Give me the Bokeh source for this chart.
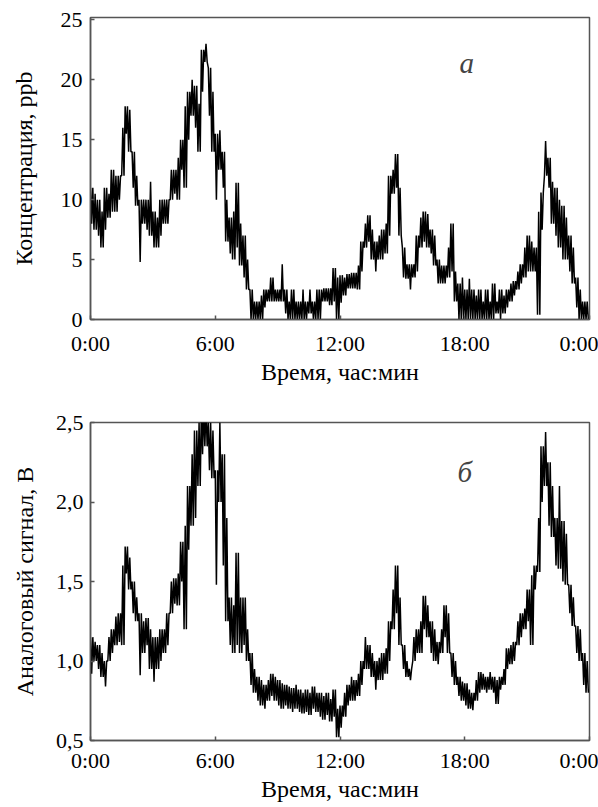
from bokeh.plotting import figure
from bokeh.layouts import column
from bokeh.models import FixedTicker, Label
from bokeh.embed import file_html
from bokeh.resources import INLINE

# ---- tick definitions ----
hour_ticks = [0, 6, 12, 18, 24]
hour_labels = ["0:00", "6:00", "12:00", "18:00", "0:00"]
conc_ticks = [0, 5, 10, 15, 20, 25]
sig_ticks = [0.5, 1.0, 1.5, 2.0, 2.5]
sig_tick_labels = ["0,5", "1,0", "1,5", "2,0", "2,5"]

# ---- concentration, ppb: min / max within each 10-minute interval ----
conc_lo = [
    8, 7.5, 7, 6, 7.5, 8.5,
    9, 9, 10, 12, 15.5, 14,
    11, 9.5, 4.8, 8, 7.5, 7,
    6, 6, 7, 8, 8, 10,
    10.5, 10, 12.5, 11, 15, 17,
    16, 14, 19, 21.5, 17, 14,
    10, 12.5, 11, 6.5, 5.5, 5,
    6, 4.5, 3.5, 2.5, 0, 0,
    0, 0, 1, 1.5, 1.5, 1.5,
    1.5, 1.5, 0.5, 0, 0, 0,
    0, 0, 0, 0.5, 0, 0,
    0, 1.5, 1.5, 1.2, 1.5, 0,
    1.4, 2, 2.6, 2.6, 2.6, 2.5,
    4, 6, 6.5, 5, 4, 5,
    5, 5.5, 7, 10.5, 11, 7,
    3.5, 3.4, 2.5, 3.5, 4, 6,
    6.5, 6, 5.5, 4.5, 3, 3,
    3, 3.5, 4, 1.5, 0, 0,
    0, 0, 0, 0, 0, 0,
    0, 0, 0, 0.5, 0, 0.5,
    1, 1.5, 2, 2.5, 3, 3.5,
    4, 4, 4, 0.4, 7.5, 12,
    11, 8, 7, 6, 5, 5,
    4, 3, 1, 0, 0, 0,
]
conc_hi = [
    11, 10.5, 10, 9, 11, 10.5,
    12.5, 12, 12, 16, 17.8, 17.5,
    14, 12, 10, 10, 10, 11.5,
    9, 8.5, 10, 10, 10, 12.5,
    12.5, 13.5, 15, 17.8, 19, 20,
    19.5, 18, 22.5, 23, 21, 19,
    15.5, 15.8, 14, 10, 8.5, 9,
    11.4, 8, 7, 5, 2.5, 1.5,
    1.5, 2, 2.5, 2.5, 3.5, 2.5,
    2.5, 4.6, 2.5, 1.5, 2.5, 1.5,
    1.5, 2.5, 1.5, 2.5, 1.5, 2.5,
    2.5, 2.6, 2.6, 2.6, 4.3, 3.5,
    3.7, 3.5, 3.8, 3.9, 3.9, 4.5,
    6.5, 8, 8.7, 7.5, 6.5, 7,
    7.5, 8, 12, 12.5, 13.8, 11,
    6, 4.6, 4.6, 4.6, 7, 8.5,
    9, 8.8, 7.5, 7, 5, 4.5,
    4.5, 6, 8, 4, 3, 3.5,
    2.5, 3.4, 2.5, 2, 2.5, 1.5,
    2.5, 1.5, 3, 1.5, 2.5, 2,
    2.5, 3, 3.2, 4, 4.6, 6,
    7, 6.5, 6, 9, 10.6, 14.9,
    13.5, 11.5, 11, 10, 9.5, 8.5,
    7, 6, 3.5, 2.5, 1.5, 1.5,
]

# ---- analog signal, V: min / max within each 10-minute interval ----
sig_lo = [
    0.92, 1.0, 0.95, 0.9, 0.84, 1.0,
    1.05, 1.1, 1.12, 1.1, 1.55, 1.45,
    1.3, 1.25, 0.91, 1.05, 1.1, 0.95,
    0.87, 0.95, 1.0, 1.05, 1.1, 1.3,
    1.36, 1.35, 1.5, 1.2, 1.7, 1.85,
    1.9, 2.1, 2.3, 2.35, 2.2, 2.15,
    1.48, 2.0, 1.6, 1.25, 1.1, 1.05,
    1.1, 1.05, 1.1, 1.0, 0.85, 0.8,
    0.75, 0.72, 0.7, 0.75, 0.78, 0.75,
    0.72, 0.7, 0.72, 0.7, 0.68, 0.7,
    0.68, 0.67, 0.68, 0.66, 0.7, 0.68,
    0.65, 0.63, 0.66, 0.62, 0.65, 0.52,
    0.58, 0.65, 0.72, 0.75, 0.75, 0.78,
    0.85, 0.95, 0.95, 0.9, 0.82, 0.88,
    0.88, 0.92, 1.0, 1.2, 1.3, 1.1,
    0.95, 0.9, 0.88, 1.0, 1.05, 1.05,
    1.2, 1.15, 1.05, 1.0, 0.98, 1.05,
    1.15, 1.05, 0.9, 0.85, 0.78, 0.75,
    0.72, 0.7, 0.69, 0.75, 0.8, 0.82,
    0.8, 0.82, 0.8, 0.73, 0.82, 0.85,
    0.95, 0.98, 1.0, 1.1, 1.15, 1.2,
    1.25, 1.1, 1.45, 1.56, 2.0, 2.1,
    1.85, 1.78, 1.6, 1.58, 1.5, 1.48,
    1.3, 1.22, 1.05, 1.0, 0.85, 0.8,
]
sig_hi = [
    1.15, 1.12, 1.1, 1.05, 1.0, 1.15,
    1.2, 1.28, 1.3, 1.6, 1.72, 1.65,
    1.5, 1.4, 1.3, 1.25, 1.27, 1.2,
    1.15, 1.15, 1.2, 1.2, 1.3, 1.5,
    1.52, 1.55, 1.75, 1.85, 2.1, 2.3,
    2.45, 2.5, 2.6, 2.6, 2.5, 2.45,
    2.2, 2.5, 2.3, 1.9, 1.4, 1.35,
    1.68, 1.4, 1.4, 1.2, 1.05, 0.95,
    0.9, 0.88, 0.85, 0.88, 0.92, 0.9,
    0.88, 0.86, 0.85, 0.84, 0.83, 0.85,
    0.82, 0.8, 0.82, 0.8, 0.84, 0.8,
    0.8, 0.78, 0.8, 0.76, 0.82, 0.7,
    0.72, 0.8, 0.85, 0.9, 0.88, 0.92,
    1.0, 1.15, 1.1, 1.05, 1.0, 1.02,
    1.05, 1.08, 1.25, 1.45, 1.6, 1.4,
    1.1, 1.0, 0.95, 1.15, 1.2, 1.25,
    1.41, 1.35, 1.25, 1.2, 1.12, 1.2,
    1.35, 1.3, 1.05, 1.0, 0.9, 0.87,
    0.86, 0.82, 0.8, 0.88, 0.93, 0.92,
    0.9, 0.93, 0.9, 0.88, 0.9, 0.95,
    1.08, 1.1, 1.12, 1.25, 1.3, 1.33,
    1.45, 1.54, 1.6, 1.9, 2.35, 2.44,
    2.25, 2.1, 1.9, 2.1, 1.88, 1.8,
    1.48, 1.4, 1.22, 1.2, 1.05, 1.0,
]

STEP_MIN = 10  # minutes per interval


def trace(lo, hi):
    """Draw each 10-minute interval as a dense hi/lo/hi (or lo/hi/lo) trace."""
    xs, ys = [], []
    third = STEP_MIN / 3.0
    for i, (a, b) in enumerate(zip(lo, hi)):
        base = i * STEP_MIN
        order = [b, a, b] if i % 2 == 0 else [a, b, a]
        for k, v in enumerate(order):
            xs.append((base + k * third) / 60.0)
            ys.append(v)
    return xs, ys


FONT = "Liberation Serif"
FRAME = "#555555"


def style(p, ylabel):
    p.xaxis.axis_label = "Время, час:мин"
    p.yaxis.axis_label = ylabel
    for ax in (p.xaxis[0], p.yaxis[0]):
        ax.axis_label_text_font = FONT
        ax.axis_label_text_font_style = "normal"
        ax.axis_label_text_font_size = "24px"
        ax.axis_label_text_color = "black"
        ax.major_label_text_font = FONT
        ax.major_label_text_font_size = "22px"
        ax.major_label_text_color = "black"
        ax.axis_line_color = FRAME
        ax.axis_line_width = 1.5
        ax.major_tick_in = 4
        ax.major_tick_out = 0
        ax.major_tick_line_color = FRAME
        ax.major_tick_line_width = 1.5
        ax.minor_tick_line_color = None
    p.xaxis.ticker = FixedTicker(ticks=hour_ticks)
    p.xaxis.major_label_overrides = {t: l for t, l in zip(hour_ticks, hour_labels)}
    p.xgrid.grid_line_color = None
    p.ygrid.grid_line_color = None
    p.outline_line_color = FRAME
    p.outline_line_width = 1.5
    p.outline_line_alpha = 1.0
    p.background_fill_color = "white"
    p.border_fill_color = "white"


# ---- top panel ----
p1 = figure(width=598, height=400, x_range=(0, 24), y_range=(0, 25.2),
            output_backend="svg", toolbar_location=None,
            min_border_left=81, min_border_right=9,
            min_border_top=17, min_border_bottom=81)
style(p1, "Концентрация, ppb")
p1.yaxis.ticker = FixedTicker(ticks=conc_ticks)
p1.xaxis.major_label_standoff = 11
p1.xaxis.axis_label_standoff = 0
p1.yaxis.major_label_standoff = 8
p1.yaxis.axis_label_standoff = 21
x1, y1 = trace(conc_lo, conc_hi)
p1.line(x1, y1, line_color="black", line_width=1.5)
p1.add_layout(Label(x=18.1, y=21.4, text="а", text_font=FONT,
                    text_font_style="italic", text_font_size="29px",
                    text_align="center", text_baseline="middle"))

# ---- bottom panel ----
p2 = figure(width=598, height=407, x_range=(0, 24), y_range=(0.5, 2.5),
            output_backend="svg", toolbar_location=None,
            min_border_left=90, min_border_right=8,
            min_border_top=22, min_border_bottom=67)
style(p2, "Аналоговый сигнал, В")
p2.yaxis.ticker = FixedTicker(ticks=sig_ticks)
p2.yaxis.major_label_overrides = {t: l for t, l in zip(sig_ticks, sig_tick_labels)}
p2.xaxis.major_label_standoff = 7
p2.xaxis.axis_label_standoff = 0
p2.yaxis.major_label_standoff = 7
p2.yaxis.axis_label_standoff = 15
x2, y2 = trace(sig_lo, sig_hi)
p2.line(x2, y2, line_color="black", line_width=1.5)
p2.add_layout(Label(x=18.0, y=2.19, text="б", text_font=FONT,
                    text_font_style="italic", text_font_size="29px",
                    text_align="center", text_baseline="middle"))

layout = column(p1, p2, spacing=0)
open("out.html", "w").write(file_html(layout, INLINE))
